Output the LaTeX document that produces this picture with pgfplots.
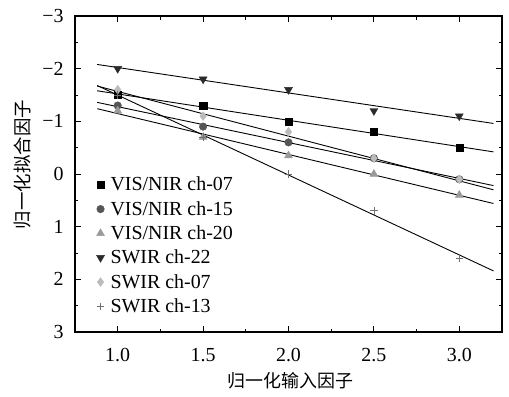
\documentclass[border=0pt]{standalone}
\usepackage{fontspec}
\setmainfont{Liberation Serif}
\newfontfamily\cjk{Noto Sans CJK SC}
\usepackage{pgfplots}
\pgfplotsset{compat=1.18}
\definecolor{cA}{HTML}{000000}
\definecolor{cB}{HTML}{555555}
\definecolor{cC}{HTML}{9A9A9A}
\definecolor{cD}{HTML}{2A2A2A}
\definecolor{cE}{HTML}{BBBBBB}
\definecolor{cF}{HTML}{707070}
\begin{document}
\begin{tikzpicture}
\begin{axis}[
  scale only axis, width=427bp, height=316bp,
  xmin=0.75, xmax=3.25, ymin=-3, ymax=3, y dir=reverse,
  xtick={1,1.5,2,2.5,3}, xticklabels={1.0,1.5,2.0,2.5,3.0},
  ytick={-3,-2,-1,0,1,2,3}, yticklabels={−3,−2,−1,0,1,2,3},
  minor x tick num=1, minor y tick num=1,
  tick align=inside, major tick length=6bp, minor tick length=3.5bp,
  axis line style={line width=1.2pt}, every tick/.style={black, line width=0.9pt},
  tick label style={font=\fontsize{20}{22}\selectfont},
  xticklabel style={yshift=-13bp},
  yticklabel style={xshift=-8bp},
  xlabel={\fontsize{18}{20}\selectfont\cjk 归一化输入因子},
  ylabel={\fontsize{18.5}{20}\selectfont\cjk 归一化拟合因子},
  every axis x label/.style={at={(axis description cs:0.505,0)}, anchor=center, yshift=-49bp},
  every axis y label/.style={at={(axis description cs:-0.124,0.53)}, rotate=90, anchor=center},
  legend style={at={(0.05,0.494)}, anchor=north west, draw=none, fill=none,
    font=\fontsize{20}{22}\selectfont, row sep=7bp, inner sep=0pt,
    nodes={inner xsep=6bp, inner ysep=1bp}},
  legend cell align=left,
  legend image code/.code={\draw[mark repeat=2,mark phase=2,#1] plot coordinates {(0cm,0cm)(0.2cm,0cm)(0.4cm,0cm)};},
]
\addplot[only marks, mark=square*, mark size=3.6bp, color=cA, mark options={fill=cA}] coordinates {(1,-1.5)(1.5,-1.3)(2,-1.0)(2.5,-0.8)(3,-0.5)};
\addlegendentry{VIS/NIR ch-07}
\addplot[only marks, mark=*, mark size=3.8bp, color=cB, mark options={fill=cB}] coordinates {(1,-1.3)(1.5,-0.9)(2,-0.6)(2.5,-0.3)(3,0.1)};
\addlegendentry{VIS/NIR ch-15}
\addplot[only marks, mark=triangle*, mark size=4.6bp, color=cC, mark options={fill=cC}] coordinates {(1,-1.2)(1.5,-0.7)(2,-0.35)(2.5,0.0)(3,0.4)};
\addlegendentry{VIS/NIR ch-20}
\addplot[only marks, mark=triangle*, mark size=4.6bp, color=cD, mark options={fill=cD, rotate=180}] coordinates {(1,-2.0)(1.5,-1.8)(2,-1.6)(2.5,-1.2)(3,-1.1)};
\addlegendentry{SWIR ch-22}
\addplot[only marks, mark=diamond*, mark size=4.4bp, color=cE, mark options={fill=cE}] coordinates {(1,-1.6)(1.5,-1.1)(2,-0.8)(2.5,-0.3)(3,0.1)};
\addlegendentry{SWIR ch-07}
\addplot[only marks, mark=+, mark size=3.8bp, color=cF, mark options={line width=0.8pt}] coordinates {(1,-1.5)(1.5,-0.7)(2,0.0)(2.5,0.7)(3,1.6)};
\addlegendentry{SWIR ch-13}
% fitted lines
\addplot[black, line width=0.9pt, forget plot] coordinates {(0.88,-1.58)(3.2,-0.42)};
\addplot[black, line width=0.9pt, forget plot] coordinates {(0.88,-1.36)(3.2,0.22)};
\addplot[black, line width=0.9pt, forget plot] coordinates {(0.88,-1.24)(3.2,0.56)};
\addplot[black, line width=0.9pt, forget plot] coordinates {(0.88,-2.08)(3.2,-0.96)};
\addplot[black, line width=0.9pt, forget plot] coordinates {(0.88,-1.67)(3.2,0.30)};
\addplot[black, line width=0.9pt, forget plot] coordinates {(0.88,-1.68)(3.2,1.84)};
\end{axis}
\pgfresetboundingbox
\path[use as bounding box] ([shift={(-75bp,-65bp)}]current axis.south west) rectangle ([shift={(7bp,16bp)}]current axis.north east);
\end{tikzpicture}
\end{document}
